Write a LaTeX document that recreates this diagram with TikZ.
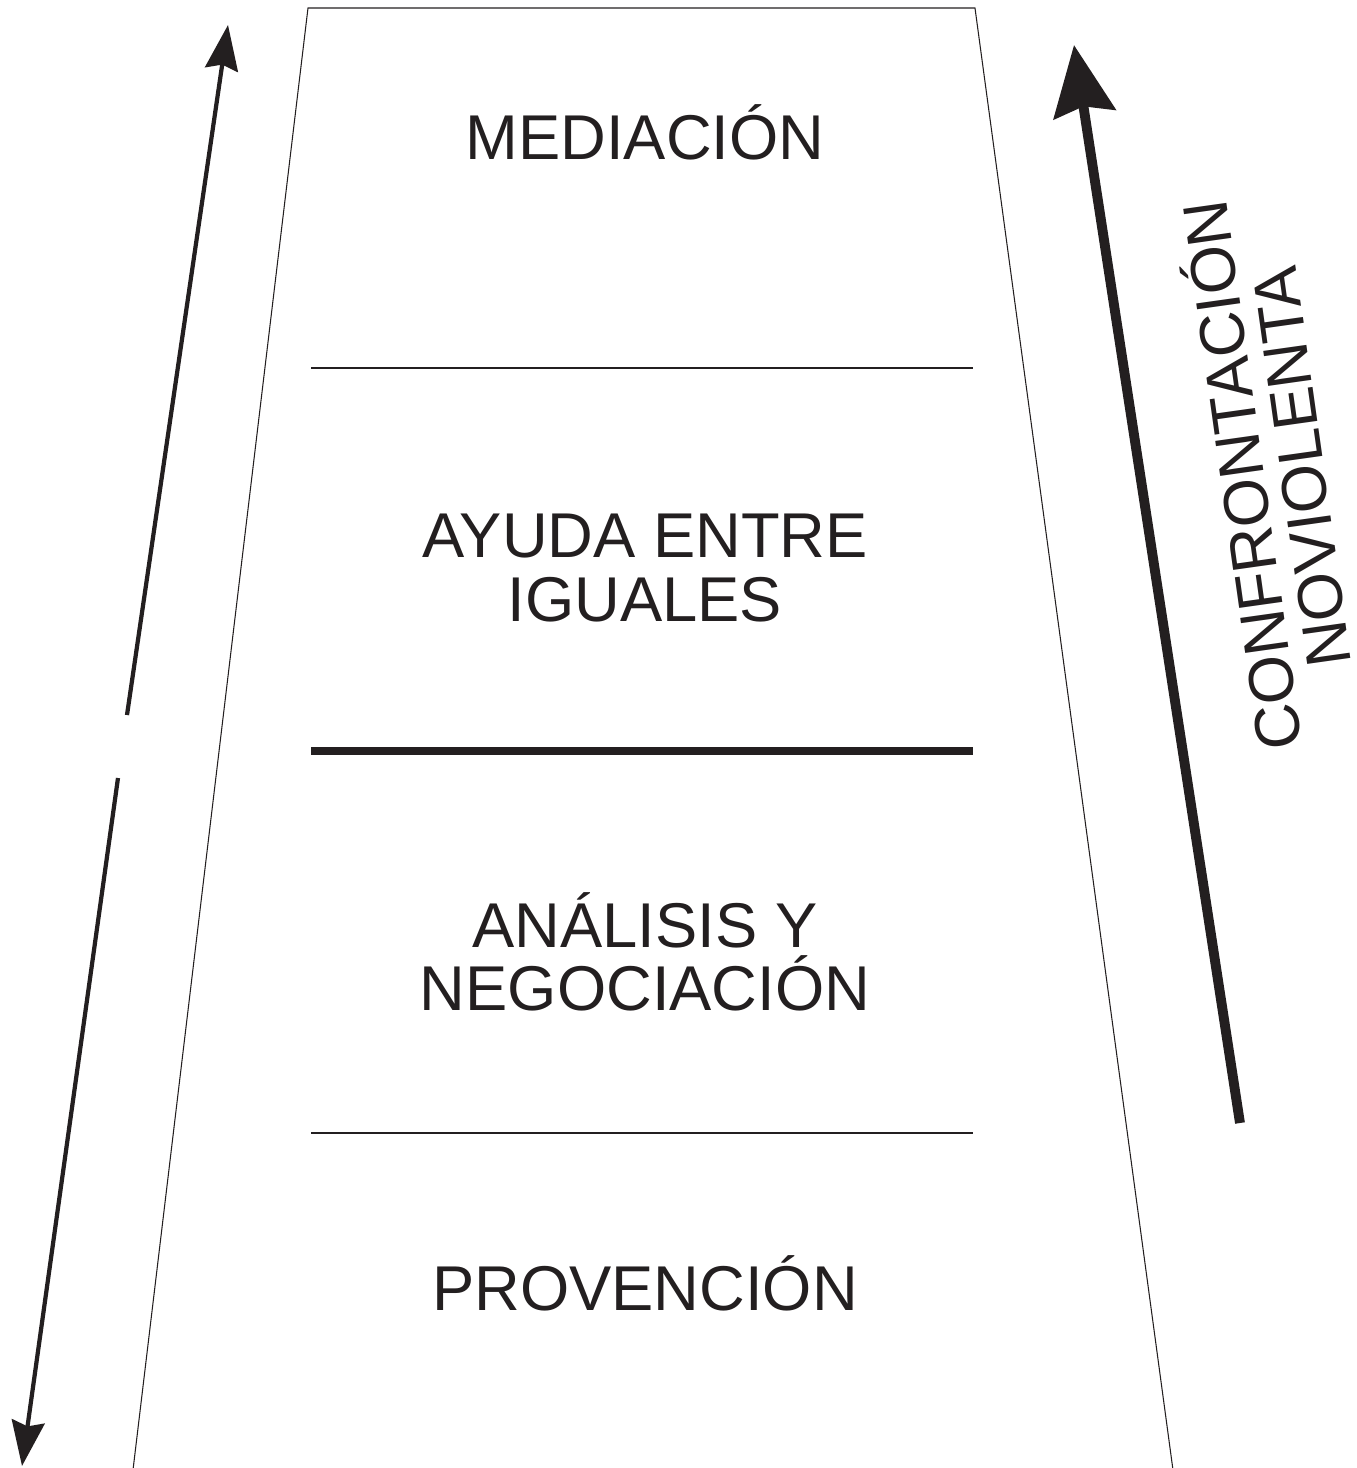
\documentclass[tikz,border=0pt]{standalone}
\usepackage{fontspec}
\setmainfont{Liberation Sans}
\usepackage{tikz}
\usetikzlibrary{arrows.meta}

\definecolor{ink}{HTML}{231F20}

\begin{document}
\begin{tikzpicture}[x=0.01cm, y=-0.01cm]
      \useasboundingbox (0,0) rectangle (1356,1468);

      \draw [ink, line width=0.3pt] (133,1470) -- (308,8) -- (975,8) -- (1173,1470);
      \draw [ink, line width=0.3pt] (311,368) -- (973,368);
      \draw [ink, line width=2.3pt] (311,751) -- (973,751);
      \draw [ink, line width=0.3pt] (311,1133) -- (973,1133);

      \node (med) at (645,132) [text=ink, font=\fontsize{18}{22}\selectfont] {MEDIACIÓN};
      \node (ayu) at (645,568) [text=ink, align=center,
         font=\fontsize{18}{18}\selectfont] {AYUDA ENTRE\\IGUALES};
      \node (ana) at (645,952) [text=ink, align=center,
         font=\fontsize{18}{18}\selectfont] {ANÁLISIS Y\\NEGOCIACIÓN};
      \node (pro) at (645,1283) [text=ink, font=\fontsize{18}{22}\selectfont] {PROVENCIÓN};
      \node (conf) at (1267,472) [text=ink, align=center, rotate=98,
         font=\fontsize{18}{17}\selectfont] {CONFRONTACIÓN\\NOVIOLENTA};

      \coordinate (lt) at (228,25);
      \coordinate (lg1) at (127,715);
      \coordinate (lg2) at (118,778);
      \coordinate (lb) at (22,1466);
      \coordinate (rb) at (1240,1123);
      \coordinate (rt) at (1074,45);

      \draw [ink, line width=1.2pt,
         -{Stealth[length=0.45cm, width=0.33cm, inset=0.05cm]}] (lg1) -- (lt);
      \draw [ink, line width=1.2pt,
         -{Stealth[length=0.45cm, width=0.33cm, inset=0.05cm]}] (lg2) -- (lb);
      \draw [ink, line width=2.8pt,
         -{Stealth[length=0.7cm, width=0.62cm, inset=0.08cm]}] (rb) -- (rt);
   \end{tikzpicture}
\end{document}
